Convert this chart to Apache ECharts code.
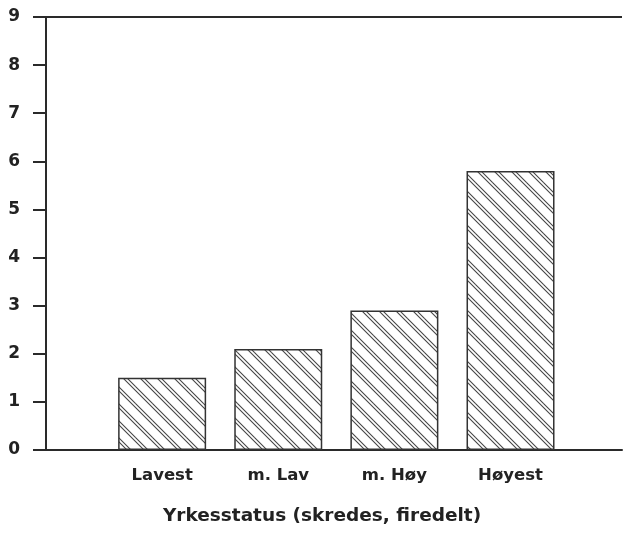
<!DOCTYPE html>
<html>
<head>
<meta charset="utf-8">
<style>html,body{margin:0;padding:0;background:#fff;}#c{width:625px;height:534px;}</style>
<script src="https://cdn.jsdelivr.net/npm/echarts@6/dist/echarts.min.js"></script>
</head>
<body>
<div id="c"></div>
<script>
var categories = ['Lavest', 'm. Lav', 'm. Høy', 'Høyest'];
var values = [1.5, 2.1, 2.9, 5.8];
var yTicks = [0, 1, 2, 3, 4, 5, 6, 7, 8, 9];
var xTitle = 'Yrkesstatus (skredes, firedelt)';

function hatch() {
  var s = 17;
  var c = document.createElement('canvas');
  c.width = s; c.height = s;
  var g = c.getContext('2d');
  g.fillStyle = '#fff';
  g.fillRect(0, 0, s, s);
  g.strokeStyle = '#444';
  g.lineWidth = 1.1;
  [0, 4].forEach(function (o) {
    [-s, 0, s].forEach(function (k) {
      g.beginPath();
      g.moveTo(o + k - 1, -1);
      g.lineTo(o + k + s + 1, s + 1);
      g.stroke();
    });
  });
  return c;
}

var chart = echarts.init(document.getElementById('c'));
var font = '"DejaVu Sans", "Liberation Sans", sans-serif';
var axisColor = '#2a2a2a';
var yMax = yTicks[yTicks.length - 1];
chart.setOption({
  backgroundColor: '#fff',
  animation: false,
  grid: { left: 46, right: 0, top: 17, bottom: 84, containLabel: false },
  xAxis: {
    type: 'value', min: 0, max: 4.96, interval: 1,
    axisLine: { show: true, onZero: false, lineStyle: { color: axisColor, width: 2 } },
    axisTick: { show: false },
    splitLine: { show: false },
    axisLabel: {
      margin: 17, fontFamily: font, fontWeight: 'bold', fontSize: 16.5, color: '#222',
      formatter: function (v) { return categories[v - 1] || ''; }
    }
  },
  yAxis: {
    type: 'value', min: yTicks[0], max: yMax, interval: 1,
    axisLine: { show: true, lineStyle: { color: axisColor, width: 2 } },
    axisTick: { show: true, length: 13, lineStyle: { color: axisColor, width: 2 } },
    splitLine: { show: false },
    axisLabel: { margin: 26, fontFamily: font, fontWeight: 'bold', fontSize: 17, color: '#222' }
  },
  graphic: [{
    type: 'text', x: 322, y: 516,
    style: { text: xTitle, font: 'bold 18.5px ' + font, fill: '#222', textAlign: 'center', textVerticalAlign: 'middle' }
  }],
  series: [{
    type: 'bar',
    barWidth: 88,
    data: values.map(function (v, i) { return [i + 1, v]; }),
    itemStyle: {
      color: { image: hatch(), repeat: 'repeat' },
      borderColor: '#333', borderWidth: 1.5
    },
    markLine: {
      silent: true, symbol: 'none', label: { show: false },
      lineStyle: { color: axisColor, width: 2, type: 'solid' },
      data: [{ yAxis: yMax }]
    }
  }]
});
</script>
</body>
</html>
